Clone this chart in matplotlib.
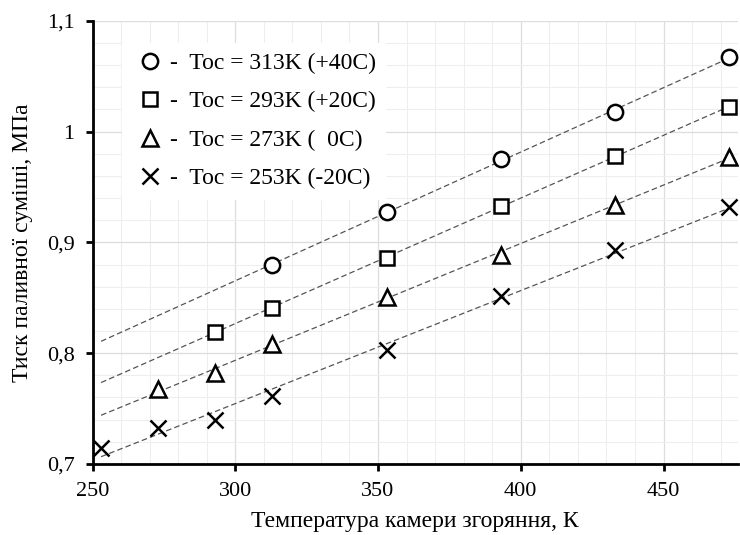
import numpy as np
import matplotlib
matplotlib.use('Agg')
import matplotlib.pyplot as plt
from matplotlib.ticker import MultipleLocator, FuncFormatter

# chamber temperature, K
x_313 = [313, 353, 393, 433, 473]
x_293 = [293, 313, 353, 393, 433, 473]
x_273 = [273, 293, 313, 353, 393, 433, 473]
x_253 = [253, 273, 293, 313, 353, 393, 433, 473]

# fuel mixture pressure, MPa
p_313 = [0.880, 0.927, 0.975, 1.018, 1.067]
p_293 = [0.819, 0.841, 0.886, 0.933, 0.978, 1.022]
p_273 = [0.768, 0.782, 0.808, 0.851, 0.889, 0.934, 0.977]
p_253 = [0.714, 0.732, 0.740, 0.761, 0.803, 0.852, 0.893, 0.932]

labels = ['-  Toc = 313K (+40C)', '-  Toc = 293K (+20C)',
          '-  Toc = 273K (  0C)', '-  Toc = 253K (-20C)']
markers = ['o', 's', '^', 'x']
sizes = [11, 10, 11, 11]
trend_range = [253, 473]

plt.rcParams['font.family'] = ['Liberation Serif', 'DejaVu Serif']

fig = plt.figure(figsize=(7.4, 5.35), dpi=100)
ax = fig.add_axes([0.125, 0.133, 0.872, 0.828])

series = [(x_313, p_313), (x_293, p_293), (x_273, p_273), (x_253, p_253)]
handles = []
for (xs, ps), m, ms, lab in zip(series, markers, sizes, labels):
    k, b = np.polyfit(xs, ps, 1)
    xt = np.array(trend_range)
    ax.plot(xt, k * xt + b, color='#555555', lw=0.9, ls=(0, (4.5, 2.5)), zorder=2)
    h, = ax.plot(xs, ps, ls='none', marker=m, ms=ms,
                 mfc='white' if m != 'x' else 'black', mec='black', mew=1.8,
                 label=lab, zorder=3)
    handles.append(h)

ax.set_xlim(250, 476)
ax.set_ylim(0.7, 1.1)
ax.xaxis.set_major_locator(MultipleLocator(50))
ax.xaxis.set_minor_locator(MultipleLocator(10))
ax.yaxis.set_major_locator(MultipleLocator(0.1))
ax.yaxis.set_minor_locator(MultipleLocator(0.02))
ax.yaxis.set_major_formatter(FuncFormatter(lambda v, p: ('%g' % round(v, 2)).replace('.', ',')))

ax.grid(which='major', color='#dddddd', lw=0.9)
ax.grid(which='minor', color='#eeeeee', lw=0.8)
ax.set_axisbelow(True)

for s in ['top', 'right']:
    ax.spines[s].set_visible(False)
for s in ['left', 'bottom']:
    ax.spines[s].set_linewidth(2)
    ax.spines[s].set_color('black')
ax.tick_params(which='major', direction='out', length=5, width=2, labelsize=16, pad=8)
ax.tick_params(which='minor', length=0)

ax.set_xlabel('Температура камери згоряння, К', fontsize=17, labelpad=7)
ax.set_ylabel('Тиск паливної суміші, МПа', fontsize=17, labelpad=10)

leg = ax.legend(handles=handles, loc='upper left', bbox_to_anchor=(0.028, 0.977),
                fontsize=17, frameon=True, fancybox=False, edgecolor='white',
                framealpha=1, handletextpad=0.1, labelspacing=0.72, handlelength=1.5,
                borderpad=0.4)

fig.savefig('out.png', dpi=100)
